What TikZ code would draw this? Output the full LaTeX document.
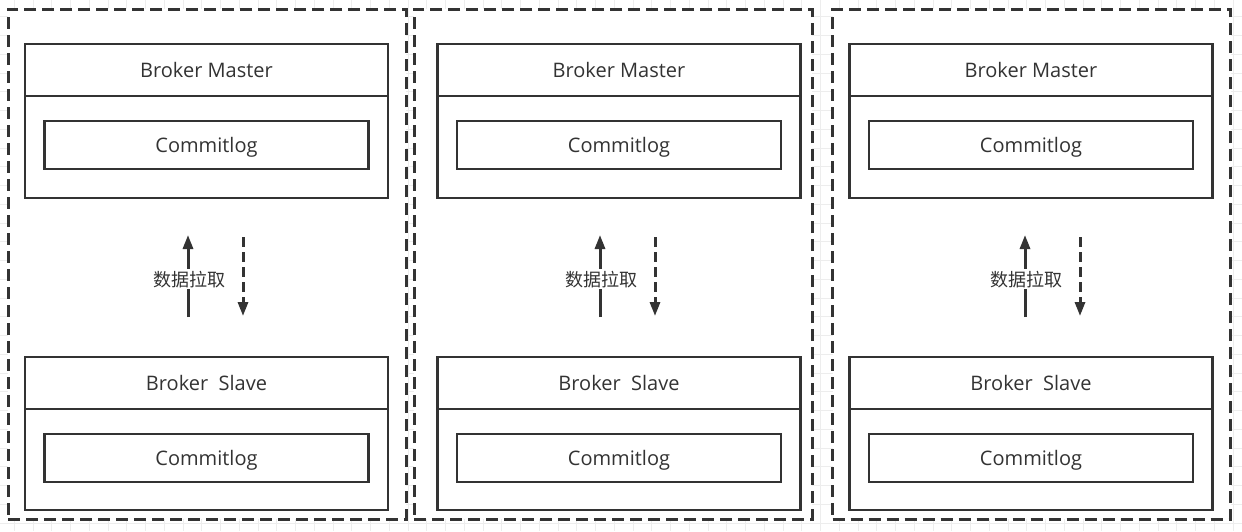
\documentclass[tikz,border=0pt]{standalone}
\usepackage{fontspec}
\setmainfont{Open Sans}
\newfontfamily\cjk{Noto Sans CJK SC}
\usetikzlibrary{positioning}
\usetikzlibrary{arrows.meta}
\definecolor{ink}{HTML}{333333}
\definecolor{gridgray}{HTML}{EDEDED}
\tikzset{
  grp/.style={draw=ink,line width=3pt,dash pattern=on 12pt off 6pt,fill=white,minimum width=398pt,minimum height=510pt},
  head/.style={draw=ink,line width=2.4pt,minimum width=363pt,minimum height=52pt,text=ink,font=\fontsize{20}{24}\selectfont,text height=14.3pt,text depth=0pt,outer sep=0pt},
  body/.style={draw=ink,line width=2.4pt,minimum width=363pt,outer sep=0pt},
  logbox/.style={draw=ink,line width=2.4pt,minimum width=324pt,minimum height=48pt,text=ink,font=\fontsize{20}{24}\selectfont,text height=14.3pt,text depth=0pt},
  pull/.style={draw=ink,line width=3pt,-{Triangle[length=14pt,width=10pt]}},
  gridline/.style={draw=gridgray,line width=0.8pt}
}

\begin{document}
\begin{tikzpicture}[x=1pt,y=-1pt]
\useasboundingbox (0,0) rectangle (1242,531);
% background grid
\foreach \gx in {0,...,65} \draw[gridline] (14.3+18.75*\gx,0) -- (14.3+18.75*\gx,531);
\foreach \gy in {0,...,27} \draw[gridline] (0,16.7+18.75*\gy) -- (1242,16.7+18.75*\gy);
% master/slave groups
\foreach \fx/\mx/\ax/\i in {207/206.5/-18.5/1, 613/619/-19/2, 1031.5/1031/-6/3} {
  \node[grp] (grp\i) at (\fx,264) {};
  \node[head] (mhead\i) at (\mx,70) {Broker Master};
  \node[body,minimum height=102pt,below=0pt of mhead\i] (mbody\i) {};
  \node[logbox] (mlog\i) at (\mx,145) {Commitlog};
  \node[head] (shead\i) at (\mx,383) {Broker\ \ Slave};
  \node[body,minimum height=101pt,below=0pt of shead\i] (sbody\i) {};
  \node[logbox] (slog\i) at (\mx,458) {Commitlog};
  \coordinate (upS\i) at ([xshift=\ax,yshift=40pt]shead\i.north);
  \coordinate (upE\i) at ([xshift=\ax,yshift=-37pt]mbody\i.south);
  \coordinate (dnS\i) at ([xshift=\ax+55,yshift=-39pt]mbody\i.south);
  \coordinate (dnE\i) at ([xshift=\ax+55,yshift=41pt]shead\i.north);
  \draw[pull] (upS\i) -- node[pos=0.46,xshift=1.5pt,fill=white,inner sep=1.5pt,text=ink,font=\cjk\fontsize{18}{20}\selectfont] (lbl\i) {数据拉取} (upE\i);
  \draw[pull,dash pattern=on 10pt off 5pt] (dnS\i) -- (dnE\i);
}
\end{tikzpicture}
\end{document}
